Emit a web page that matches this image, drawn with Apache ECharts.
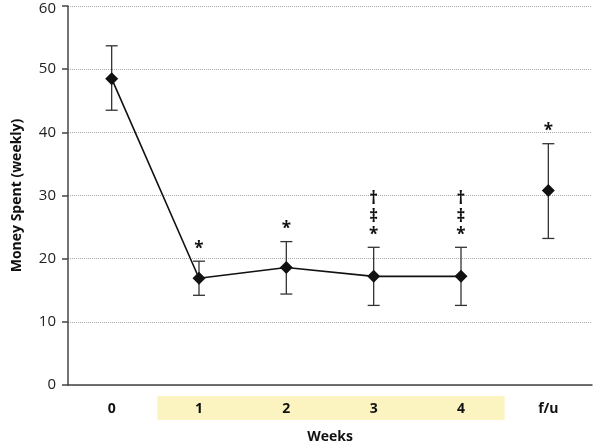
<!DOCTYPE html>
<html><head><meta charset="utf-8">
<script src="https://cdn.jsdelivr.net/npm/echarts@6/dist/echarts.min.js"></script>
<style>html,body{margin:0;padding:0;background:#fff}#c{width:600px;height:447px}</style>
</head><body><div id="c"></div>
<script>
const categories = ['0','1','2','3','4','f/u'];
const highlighted = ['1','2','3','4'];
const meanLine = [48.5, 16.9, 18.6, 17.2, 17.2, null];
const meanFollowUp = [null, null, null, null, null, 30.8];
const errUpper = [53.7, 19.6, 22.7, 21.8, 21.8, 38.2];
const errLower = [43.5, 14.2, 14.4, 12.6, 12.6, 23.2];
const marks = ['', '*', '*', '*\n‡\n†', '*\n‡\n†', '*'];
const yTicks = [0, 10, 20, 30, 40, 50, 60];

const FONT = '"Open Sans", sans-serif';
const chart = echarts.init(document.getElementById('c'));
const errData = categories.map((c, i) => [i, errLower[i], errUpper[i], marks[i]]);
const yMax = yTicks[yTicks.length - 1];

chart.setOption({
  animation: false,
  grid: { left: 68, right: 8, top: 6, bottom: 62, outerBoundsMode: 'none', containLabel: false },
  xAxis: {
    type: 'category', data: categories, boundaryGap: true,
    name: 'Weeks', nameLocation: 'middle', nameGap: 45,
    nameTextStyle: { fontFamily: FONT, fontWeight: 'bold', fontSize: 14, color: '#111' },
    axisLine: { lineStyle: { color: '#444', width: 1.5 } },
    axisTick: { alignWithLabel: false, interval: 0, length: 5, lineStyle: { color: '#444', width: 1.5 } },
    axisLabel: { interval: 0, margin: 17, fontFamily: FONT, fontWeight: 'bold', fontSize: 14, color: '#111' },
    splitLine: { show: false }
  },
  yAxis: {
    type: 'value', min: yTicks[0], max: yMax, interval: 10,
    name: 'Money Spent (weekly)', nameLocation: 'middle', nameGap: 44,
    nameTextStyle: { fontFamily: FONT, fontWeight: 'bold', fontSize: 14, color: '#111' },
    axisLine: { show: true, lineStyle: { color: '#444', width: 1.5 } },
    axisTick: { show: true, length: 6, lineStyle: { color: '#444', width: 1.5 } },
    axisLabel: {
      margin: 12, fontFamily: FONT, fontSize: 15, color: '#222',
      formatter: function (v) { return v === yMax ? '{top|' + v + '}' : String(v); },
      rich: { top: { fontFamily: FONT, fontSize: 15, color: '#222', padding: [5, 0, 0, 0] } }
    },
    splitLine: { show: true, lineStyle: { color: '#aaa', type: 'dotted', width: 1 } }
  },
  series: [
    {
      type: 'custom', z: 3,
      renderItem: function (params, api) {
        const x = api.value(0);
        const lo = api.coord([x, api.value(1)]);
        const hi = api.coord([x, api.value(2)]);
        const txt = api.value(3);
        const cap = 6;
        const st = { stroke: '#333', lineWidth: 1.3 };
        const children = [
          { type: 'line', shape: { x1: lo[0], y1: lo[1], x2: hi[0], y2: hi[1] }, style: st },
          { type: 'line', shape: { x1: lo[0] - cap, y1: lo[1], x2: lo[0] + cap, y2: lo[1] }, style: st },
          { type: 'line', shape: { x1: hi[0] - cap, y1: hi[1], x2: hi[0] + cap, y2: hi[1] }, style: st }
        ];
        if (txt) {
          const parts = String(txt).split('\n');
          parts.forEach((p, k) => {
            children.push({
              type: 'text',
              style: {
                text: p, x: hi[0], y: hi[1] - 4 - k * 18,
                align: 'center', verticalAlign: 'bottom',
                font: 'bold 17px ' + FONT, fill: '#111'
              }
            });
          });
        }
        return { type: 'group', children: children };
      },
      data: errData
    },
    {
      type: 'line', data: meanLine, z: 4,
      symbol: 'diamond', symbolSize: 13,
      lineStyle: { color: '#111', width: 1.6 },
      itemStyle: { color: '#111' }
    },
    {
      type: 'line', data: meanFollowUp, z: 4,
      symbol: 'diamond', symbolSize: 13,
      lineStyle: { color: '#111', width: 1.6 },
      itemStyle: { color: '#111' }
    }
  ]
});

const first = highlighted[0], last = highlighted[highlighted.length - 1];
const catW = chart.convertToPixel({ xAxisIndex: 0 }, categories[1]) - chart.convertToPixel({ xAxisIndex: 0 }, categories[0]);
const x0 = chart.convertToPixel({ xAxisIndex: 0 }, first) - catW / 2 + 2;
const x1 = chart.convertToPixel({ xAxisIndex: 0 }, last) + catW / 2;
const yBase = chart.convertToPixel({ yAxisIndex: 0 }, 0);
chart.setOption({
  graphic: [{
    type: 'rect', z: -1, silent: true,
    shape: { x: x0, y: yBase + 11, width: x1 - x0, height: 24 },
    style: { fill: '#FBF3C0' }
  }]
});
</script>
</body></html>
